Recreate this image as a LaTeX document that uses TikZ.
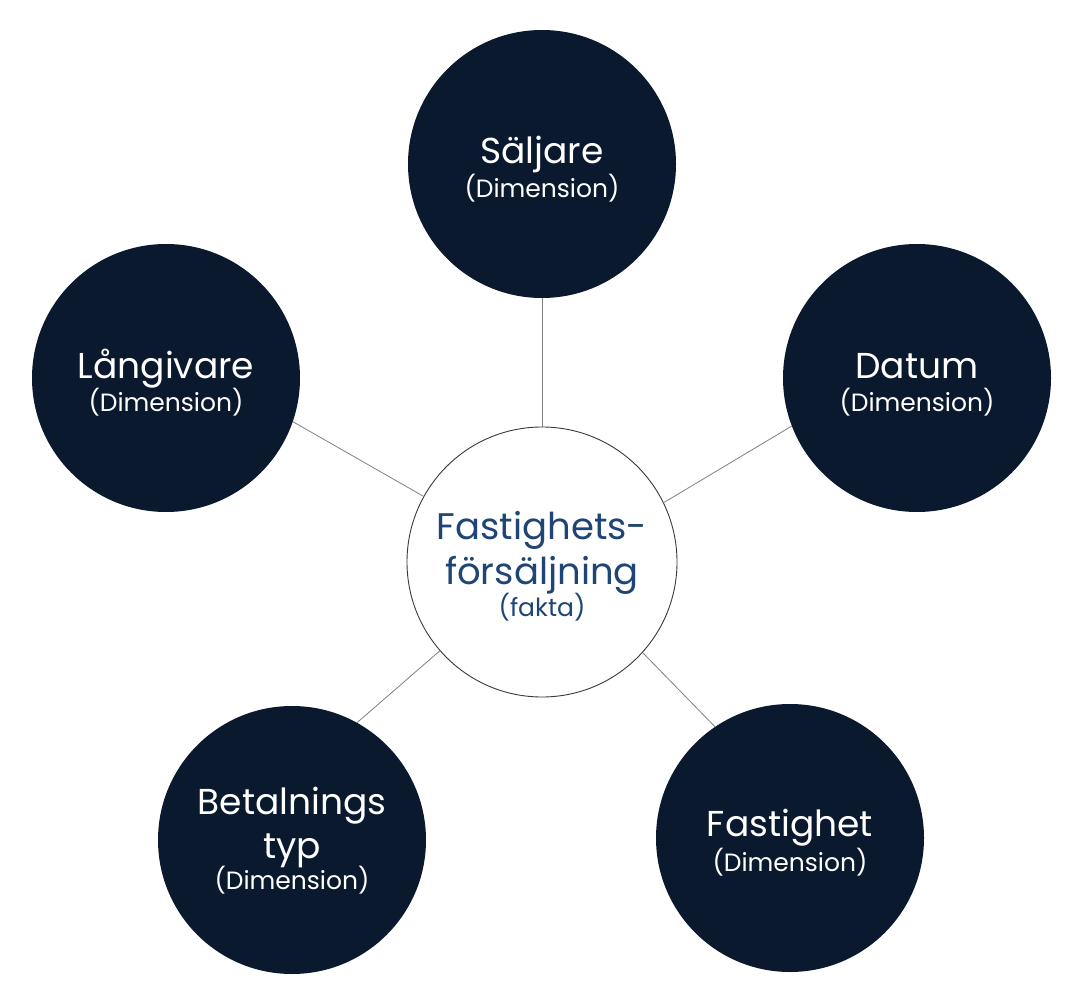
\documentclass[tikz,border=0pt]{standalone}
\usepackage{fontspec}
\setmainfont{Poppins}
\definecolor{navy}{HTML}{0A192D}
\definecolor{factblue}{HTML}{1E4575}
\definecolor{linegray}{HTML}{808080}
\definecolor{ringgray}{HTML}{3A3A3A}
\begin{document}
\begin{tikzpicture}[x=1pt,y=-1pt,
  dimcircle/.style={circle,fill=navy,minimum size=268pt,inner sep=0pt},
  factcircle/.style={circle,draw=ringgray,line width=0.9pt,fill=white,minimum size=270pt,inner sep=0pt},
  bigtxt/.style={anchor=base,text=white,inner sep=0pt,font=\fontsize{36}{40}\selectfont},
  smalltxt/.style={anchor=base,text=white,inner sep=0pt,font=\fontsize{25}{30}\selectfont},
  fbig/.style={anchor=base,text=factblue,inner sep=0pt,font=\fontsize{37}{40}\selectfont},
  fsmall/.style={anchor=base,text=factblue,inner sep=0pt,font=\fontsize{25}{30}\selectfont},
  conn/.style={draw=linegray,line width=0.8pt}]
\useasboundingbox[fill=white] (0,0) rectangle (1084,992);

\node[dimcircle] (sal) at (542,164) {};
\node[dimcircle] (lan) at (166,378) {};
\node[dimcircle] (dat) at (917,378) {};
\node[dimcircle] (bet) at (292,840) {};
\node[dimcircle] (fas) at (790,838) {};
\node[factcircle] (fak) at (542,562) {};

\draw[conn] (fak.90) -- (sal.270);
\draw[conn] (fak.151.7) -- (lan.-19.4);
\draw[conn] (fak.26) -- (dat.201.4);
\draw[conn] (fak.221.7) -- (bet.61);
\draw[conn] (fak.-42) -- (fas.124.5);

\node[bigtxt] (salA) at (542,164) {Säljare};
\node[smalltxt] (salB) at (542,198) {(Dimension)};
\node[bigtxt] (lanA) at (166,378) {Långivare};
\node[smalltxt] (lanB) at (166,411) {(Dimension)};
\node[bigtxt] (datA) at (917,378) {Datum};
\node[smalltxt] (datB) at (917,411) {(Dimension)};
\node[bigtxt] (betA) at (292,814) {Betalnings};
\node[bigtxt] (betB) at (292,858) {typ};
\node[smalltxt] (betC) at (292,889) {(Dimension)};
\node[bigtxt] (fasA) at (790,836) {Fastighet};
\node[smalltxt] (fasB) at (790,871) {(Dimension)};
\node[fbig] (fakA) at (542,539) {Fastighets-};
\node[fbig] (fakB) at (542,584) {försäljning};
\node[fsmall] (fakC) at (542,616) {(fakta)};
\end{tikzpicture}
\end{document}
